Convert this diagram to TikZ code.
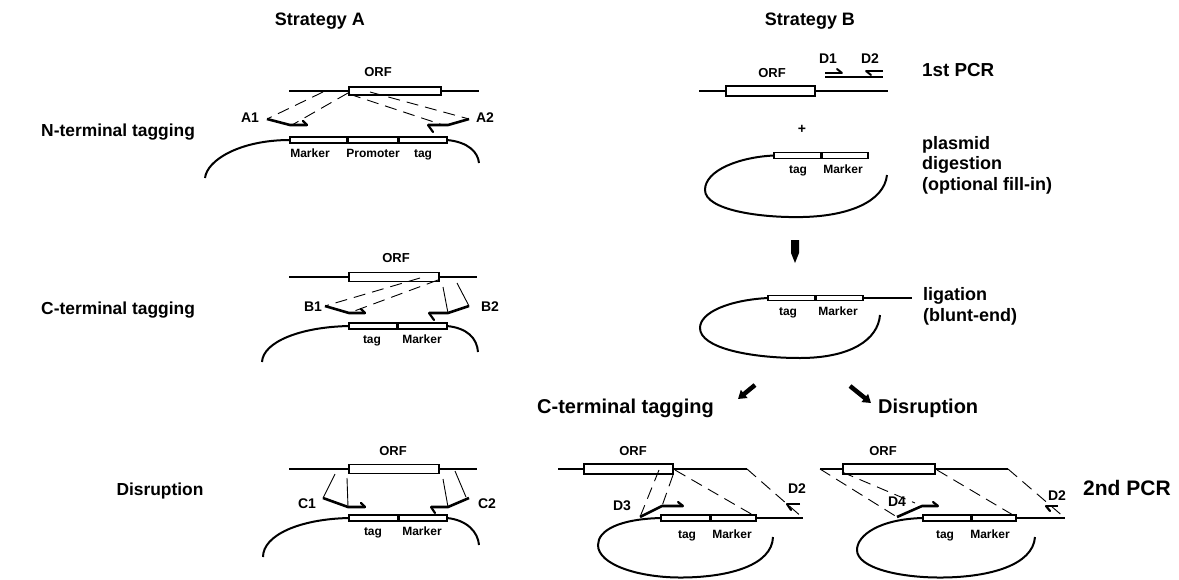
\documentclass[tikz,border=0pt]{standalone}
\usepackage{fontspec}
\setmainfont{Liberation Sans}
\usetikzlibrary{arrows.meta}
\begin{document}
\begin{tikzpicture}[x=1pt,y=-1pt,
  dna/.style={line width=2pt},
  orfbox/.style={draw,line width=1.8pt,fill=white},
  divider/.style={line width=3pt},
  primer/.style={line width=2.6pt,line join=round},
  barb/.style={line width=2.2pt,line cap=round},
  dsh/.style={line width=0.9pt,dash pattern=on 12pt off 7pt},
  thinl/.style={line width=0.9pt},
  lbase/.style={inner sep=0pt,text height=.72em,text depth=0pt},
  big/.style={lbase,font=\bfseries\fontsize{17.4}{17.4}\selectfont},
  bigB/.style={lbase,font=\bfseries\fontsize{20}{20}\selectfont},
  mid/.style={lbase,font=\bfseries\fontsize{18}{18}\selectfont},
  plab/.style={lbase,font=\bfseries\fontsize{14}{14}\selectfont},
  orf/.style={lbase,font=\bfseries\fontsize{13}{13}\selectfont},
  sm/.style={lbase,font=\bfseries\fontsize{12}{12}\selectfont},
  bigarrow/.style={line width=4.5pt,-{Triangle[length=8pt,width=10pt]}}]
\useasboundingbox (0,0) rectangle (1179,579);

% ---------- titles ----------
\node[big,font=\bfseries\fontsize{18}{18}\selectfont] (tA) at (320,22) {Strategy A};
\node[big,font=\bfseries\fontsize{18}{18}\selectfont] (tB) at (810,22) {Strategy B};
\node[big,anchor=west] (lN) at (41,133) {N-terminal tagging};
\node[big,anchor=west] (lC) at (41,311) {C-terminal tagging};
\node[big] (lD) at (160,492) {Disruption};

% ================= Strategy A : N-terminal =================
\draw[dna] (289,91) -- (479,91);
\draw[orfbox] (349,87) rectangle (441,95);
\node[orf] (orfA1) at (378,73) {ORF};
\draw[dna] (290,140) .. controls (240,140) and (207,160) .. (205,178);
\draw[dna] (447,140) .. controls (468,142) and (478,152) .. (479,163);
\draw[orfbox] (290,137) rectangle (447,143);
\draw[divider] (347,137) -- (347,143);
\draw[divider] (398,137) -- (398,143);
\node[sm] (mk1) at (310,154) {Marker};
\node[sm] (pr1) at (373,154) {Promoter};
\node[sm] (tg1) at (423,154) {tag};
\draw[dsh] (323,92) -- (267,119);
\draw[dsh] (348,93) -- (292,125);
\draw[primer] (267,119) -- (290,125) -- (307,125);
\draw[barb] (307,125) -- (303,121);
\node[plab] (A1) at (250,119) {A1};
\draw[dsh] (370,92) -- (469,119);
\draw[dsh] (349,94) -- (443,125);
\draw[primer] (469,119) -- (448,125) -- (428,125);
\draw[barb] (428,125) -- (433,132);
\node[plab] (A2) at (485,119) {A2};

% ================= Strategy A : C-terminal =================
\draw[dna] (289,277) -- (477,277);
\draw[orfbox] (349,272.5) rectangle (439,281.5);
\node[orf] (orfA2) at (396,259) {ORF};
\draw[dna] (349,326) .. controls (300,327) and (263,342) .. (262,362);
\draw[dna] (447,326) .. controls (467,328) and (477,338) .. (478,352);
\draw[orfbox] (349,323) rectangle (447,329);
\draw[divider] (397,323) -- (397,329);
\node[sm] (tg2) at (372,340) {tag};
\node[sm] (mk2) at (422,340) {Marker};
\draw[dsh] (420,278) -- (325,306);
\draw[dsh] (438,280) -- (349,313);
\draw[primer] (325,306) -- (349,313) -- (365,313);
\draw[barb] (365,313) -- (361,309);
\node[plab] (B1) at (313,308) {B1};
\draw[thinl] (443,287) -- (448,313);
\draw[thinl] (457,283) -- (469,306);
\draw[primer] (469,306) -- (448,313) -- (429,313);
\draw[barb] (429,313) -- (434,320);
\node[plab] (B2) at (490,308) {B2};

% ================= Strategy A : Disruption =================
\draw[dna] (289,469) -- (477,469);
\draw[orfbox] (349,464.5) rectangle (439,473.5);
\node[orf] (orfA3) at (393,452) {ORF};
\draw[dna] (349,518) .. controls (300,519) and (263,535) .. (263,557);
\draw[dna] (447,518) .. controls (467,520) and (478,532) .. (479,545);
\draw[orfbox] (349,515) rectangle (447,521);
\draw[divider] (398,515) -- (398,521);
\node[sm] (tg3) at (373,532) {tag};
\node[sm] (mk3) at (422,532) {Marker};
\draw[thinl] (335,474) -- (323,498);
\draw[thinl] (347,478) -- (348,507);
\draw[primer] (323,498) -- (348,507) -- (365,507);
\draw[barb] (365,507) -- (361,503);
\node[plab] (C1) at (307,505) {C1};
\draw[thinl] (455,471) -- (466,497);
\draw[thinl] (443,479) -- (448,507);
\draw[primer] (469,498) -- (448,507) -- (431,507);
\draw[barb] (431,507) -- (435,513);
\node[plab] (C2) at (487,505) {C2};

% ================= Strategy B : 1st PCR =================
\draw[dna] (699,91) -- (888,91);
\draw[orfbox] (726,86) rectangle (815,96);
\node[orf] (orfB1) at (772,74) {ORF};
\draw[dna] (825,77) -- (883,77);
\draw[dna] (825,73) -- (842,73);
\draw[dna,line cap=round] (842,73) -- (837,69);
\draw[dna] (883,71) -- (866,71);
\draw[dna,line cap=round] (866,71) -- (871,75);
\node[plab] (D1) at (828,60) {D1};
\node[plab] (D2a) at (870,60) {D2};
\node[mid,font=\bfseries\fontsize{18.8}{18.8}\selectfont,anchor=west] (pcr1) at (922,73) {1st PCR};
\node[plab] (plus) at (802,130) {+};

% plasmid digestion
\draw[dna] (774,155.5) .. controls (740,157) and (705,170) .. (705,190)
  .. controls (705,210) and (760,218) .. (803,217)
  .. controls (848,216) and (884,202) .. (887,175);
\draw[orfbox] (774,152.5) rectangle (868,158.5);
\draw[divider] (821,152.5) -- (821,158.5);
\node[sm] (tg4) at (798,170) {tag};
\node[sm] (mk4) at (843,170) {Marker};
\node[mid,anchor=west] (pl1) at (922,146) {plasmid};
\node[mid,anchor=west] (pl2) at (922,166) {digestion};
\node[mid,anchor=west] (pl3) at (922,187) {(optional fill-in)};

% down arrow
\fill (791,240) -- (799,240) -- (799,253) -- (795,263) -- (791,253) -- cycle;

% ligation
\draw[dna] (768,298) .. controls (730,300) and (700,312) .. (700,328)
  .. controls (700,348) and (750,358) .. (800,358)
  .. controls (850,358) and (878,340) .. (880,315);
\draw[dna] (863,298) -- (912,298);
\draw[orfbox] (768,295.5) rectangle (863,300.5);
\draw[divider] (815,295.5) -- (815,300.5);
\node[sm] (tg5) at (788,312) {tag};
\node[sm] (mk5) at (838,312) {Marker};
\node[mid,anchor=west] (lg1) at (923,297) {ligation};
\node[mid,anchor=west] (lg2) at (923,318) {(blunt-end)};

% diagonal arrows
\draw[bigarrow] (755,385) -- (738,399);
\draw[bigarrow] (850,386) -- (871,403);
\node[bigB,anchor=west] (lCB) at (537,410) {C-terminal tagging};
\node[bigB,anchor=west] (lDB) at (878,410) {Disruption};

% ================= Strategy B : C-terminal =================
\draw[dna] (558,469) -- (747,469);
\draw[orfbox] (584,464) rectangle (673,474);
\node[orf] (orfB2) at (633,452) {ORF};
\draw[dna] (661,518) .. controls (620,519) and (598,530) .. (598,545)
  .. controls (598,565) and (640,578) .. (683,577.5)
  .. controls (730,577) and (772,565) .. (773,537);
\draw[dna] (756,518) -- (803,518);
\draw[orfbox] (661,515) rectangle (756,521);
\draw[divider] (710,515) -- (710,521);
\node[sm] (tg6) at (687,535) {tag};
\node[sm] (mk6) at (732,535) {Marker};
\draw[dsh] (659,470) -- (640,517);
\draw[dsh] (673,475) -- (662,506);
\draw[dsh] (675,470) -- (753,515);
\draw[dsh] (747,469) -- (803,518);
\draw[primer] (640,517) -- (662,506) -- (683,506);
\draw[barb] (683,506) -- (678,502);
\node[plab] (D3) at (622,507) {D3};
\draw[primer] (800,504) -- (787,504);
\draw[barb] (787,504) -- (791,510);
\node[plab] (D2b) at (797,490) {D2};

% ================= Strategy B : Disruption =================
\draw[dna] (820,469) -- (1008,469);
\draw[orfbox] (843,464) rectangle (935,474);
\node[orf] (orfB3) at (883,452) {ORF};
\draw[dna] (923,518) .. controls (880,519) and (857,535) .. (857,550)
  .. controls (857,568) and (900,578) .. (943,577.5)
  .. controls (990,577) and (1033,565) .. (1035,537);
\draw[dna] (1016,518) -- (1065,518);
\draw[orfbox] (923,515) rectangle (1016,521);
\draw[divider] (971,515) -- (971,521);
\node[sm] (tg7) at (945,535) {tag};
\node[sm] (mk7) at (990,535) {Marker};
\draw[dsh] (820,469) -- (897,517);
\draw[dsh] (842,472) -- (915,503);
\draw[dsh] (937,470) -- (1013,515);
\draw[dsh] (1008,469) -- (1065,518);
\draw[primer] (897,517) -- (922,506) -- (938,506);
\draw[barb] (938,506) -- (933,502);
\node[plab] (D4) at (897,503) {D4};
\draw[primer] (1058,506) -- (1046,506);
\draw[barb] (1046,506) -- (1050,511);
\node[plab] (D2c) at (1057,497) {D2};
\node[bigB,font=\bfseries\fontsize{21}{21}\selectfont,anchor=west] (pcr2) at (1083,492) {2nd PCR};
\end{tikzpicture}
\end{document}
